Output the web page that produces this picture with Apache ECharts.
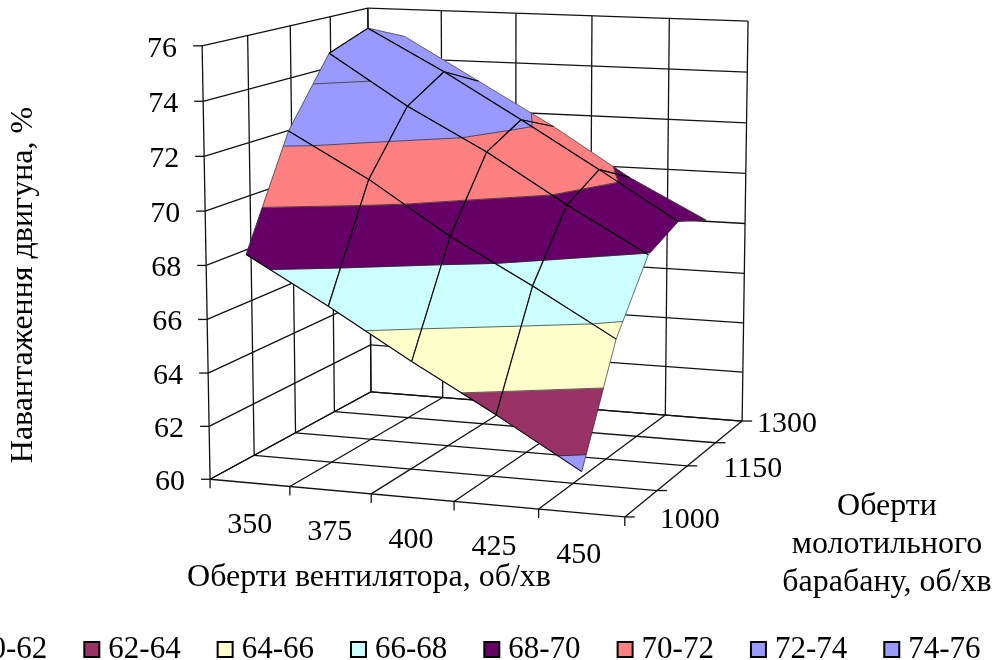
<html>
<head>
<meta http-equiv="Content-Type" content="text/html; charset=utf-8" />
<script src="https://cdn.jsdelivr.net/npm/echarts@6/dist/echarts.min.js"></script>
<style>html,body{margin:0;padding:0;background:#fff}</style>
</head>
<body>
<div id="main" style="width:998px;height:660px;"></div>
<script type="text/javascript">
var fanLabels = ['350', '375', '400', '425', '450'];
var drumLabels = ['1000', '', '1150', '', '1300'];
var loadTicks = [60, 62, 64, 66, 68, 70, 72, 74, 76];
var bandNames = ['60-62', '62-64', '64-66', '66-68', '68-70', '70-72', '72-74', '74-76'];
var bandColors = ['#9999ff', '#993366', '#ffffcc', '#ccffff', '#660066', '#ff8080', '#9999ff', '#9999ff'];

// load by drum speed row, fan speed column
var load1000 = [68.5, 66.8, 65.0, 63.3, 61.5];
var load1075 = [72.5, 70.85, 68.9, 67.25, 65.5];
var load1150 = [75.0, 73.1, 71.5, 69.65, 67.95];
var load1225 = [75.6, 74.0, 72.25, 70.45, 68.6];
var load1300 = [74.9, 73.2, 71.5, 69.6, 68.05];
var loads = [load1000, load1075, load1150, load1225, load1300];

var FONT = '"Liberation Serif", "Times New Roman", serif';

// camera fitted to the box corners: fan slot, drum step, load -> picture plane
var boxCorners = [
    [0, 0, 60, 210, 479], [5, 0, 60, 625, 517], [5, 4, 60, 742, 421], [0, 4, 60, 371, 392],
    [0, 0, 76, 202, 46], [0, 4, 76, 368, 8], [5, 4, 76, 748, 21]
];

function fitCamera(pts) {
    var n = 11, A = [], i, j, k;
    for (i = 0; i < n; i++) { A.push(new Array(n + 1).fill(0)); }
    function add(row, rhs) {
        for (var a = 0; a < n; a++) {
            for (var b = 0; b < n; b++) { A[a][b] += row[a] * row[b]; }
            A[a][n] += row[a] * rhs;
        }
    }
    pts.forEach(function (p) {
        var w = (p[2] - 60) / 16;
        add([p[0], p[1], w, 1, 0, 0, 0, 0, -p[3] * p[0], -p[3] * p[1], -p[3] * w], p[3]);
        add([0, 0, 0, 0, p[0], p[1], w, 1, -p[4] * p[0], -p[4] * p[1], -p[4] * w], p[4]);
    });
    for (i = 0; i < n; i++) {
        var best = i;
        for (j = i + 1; j < n; j++) { if (Math.abs(A[j][i]) > Math.abs(A[best][i])) { best = j; } }
        var t = A[i]; A[i] = A[best]; A[best] = t;
        for (j = 0; j < n; j++) {
            if (j !== i) {
                var f = A[j][i] / A[i][i];
                for (k = i; k <= n; k++) { A[j][k] -= f * A[i][k]; }
            }
        }
    }
    return A.map(function (r, idx) { return r[n] / r[idx]; });
}
var cam = fitCamera(boxCorners);

function project(u, v, z) {
    var w = (z - 60) / 16;
    var d = cam[8] * u + cam[9] * v + cam[10] * w + 1;
    return [(cam[0] * u + cam[1] * v + cam[2] * w + cam[3]) / d,
            (cam[4] * u + cam[5] * v + cam[6] * w + cam[7]) / d];
}

// wall and floor lines, [u1, v1, z1, u2, v2, z2]
var frameSegments = [];
loadTicks.forEach(function (z) {
    frameSegments.push([0, 0, z, 0, 4, z]);
    frameSegments.push([0, 4, z, 5, 4, z]);
});
[0, 1, 2, 3, 4].forEach(function (v) {
    frameSegments.push([0, v, 60, 0, v, 76]);
    frameSegments.push([0, v, 60, 5, v, 60]);
});
[0, 1, 2, 3, 4, 5].forEach(function (u) {
    frameSegments.push([u, 4, 60, u, 4, 76]);
    frameSegments.push([u, 0, 60, u, 4, 60]);
});

var cells = [];
for (var row = 3; row >= 0; row--) {
    for (var col = 0; col < 4; col++) { cells.push([col, row]); }
}

function clip(poly, level, keepAbove) {
    var out = [];
    poly.forEach(function (p, idx) {
        var q = poly[(idx + 1) % poly.length];
        var pIn = keepAbove ? p[2] >= level : p[2] <= level;
        var qIn = keepAbove ? q[2] >= level : q[2] <= level;
        if (pIn) { out.push(p); }
        if (pIn !== qIn) {
            var t = (level - p[2]) / (q[2] - p[2]);
            out.push([p[0] + t * (q[0] - p[0]), p[1] + t * (q[1] - p[1]), level]);
        }
    });
    return out;
}

function toPixel(api, p) {
    return api.coord(project(p[0], p[1], p[2]));
}

function segment(a, b, color, width) {
    return { type: 'line', silent: true, shape: { x1: a[0], y1: a[1], x2: b[0], y2: b[1] },
        style: { stroke: color, lineWidth: width } };
}

function renderFrame(params, api) {
    var a = api.coord(project(api.value(0), api.value(1), api.value(2)));
    var b = api.coord(project(api.value(3), api.value(4), api.value(5)));
    return segment(a, b, '#111', 1.3);
}

function renderCell(params, api) {
    var i = api.value(0), j = api.value(1);
    var quad = [[i, j], [i + 1, j], [i + 1, j + 1], [i, j + 1]].map(function (c) {
        return [c[0] + 0.5, c[1], loads[c[1]][c[0]]];
    });
    var kids = [];
    bandNames.forEach(function (name, b) {
        var lo = 60 + b * 2;
        var part = clip(clip(quad, lo, true), lo + 2, false);
        if (part.length < 3) { return; }
        kids.push({ type: 'polygon', silent: true,
            shape: { points: part.map(function (p) { return toPixel(api, p); }) },
            style: { fill: bandColors[b], stroke: bandColors[b], lineWidth: 0.6 } });
    });
    // thin contour where one band meets the next
    loadTicks.forEach(function (level) {
        var hits = [];
        quad.forEach(function (p, idx) {
            var q = quad[(idx + 1) % 4];
            if ((p[2] - level) * (q[2] - level) < 0) {
                var t = (level - p[2]) / (q[2] - p[2]);
                hits.push(toPixel(api, [p[0] + t * (q[0] - p[0]), p[1] + t * (q[1] - p[1]), level]));
            }
        });
        if (hits.length === 2) { kids.push(segment(hits[0], hits[1], '#222', 0.7)); }
    });
    // mesh: outer rim of the sheet is lighter, except the front row and one top-left piece
    var px = quad.map(function (p) { return toPixel(api, p); });
    kids.push(segment(px[0], px[1], '#000', 1.15));
    kids.push(segment(px[1], px[2], i === 3 ? '#333' : '#000', i === 3 ? 0.7 : 1.15));
    kids.push(segment(px[2], px[3], j === 3 ? '#444' : '#000', j === 3 ? 0.7 : 1.15));
    kids.push(segment(px[3], px[0], (i === 0 && j !== 2) ? '#333' : '#000', (i === 0 && j !== 2) ? 0.7 : 1.15));
    return { type: 'group', children: kids };
}

function textEl(pos, text, align) {
    return { type: 'text', silent: true, style: { x: pos[0], y: pos[1], text: text, align: align,
        verticalAlign: 'middle', font: '30px ' + FONT, fill: '#000' } };
}

function tickLine(a, dx, dy) {
    return segment(a, [a[0] + dx, a[1] + dy], '#111', 1.3);
}

var drumLabelShift = [35, 0, 36, 0, 15];

function renderAxes(params, api) {
    var kids = [];
    loadTicks.forEach(function (z) {
        var a = api.coord(project(0, 0, z));
        kids.push(tickLine(a, -9, 0));
        kids.push(textEl([a[0] - 25, a[1] + 3], String(z), 'right'));
    });
    [0, 1, 2, 3, 4, 5].forEach(function (u) {
        kids.push(tickLine(api.coord(project(u, 0, 60)), 0, 9));
    });
    fanLabels.forEach(function (s, u) {
        var a = api.coord(project(u + 0.5, 0, 60));
        kids.push(textEl([a[0] - u * 0.7, a[1] + 42], s, 'center'));
    });
    drumLabels.forEach(function (s, v) {
        var a = api.coord(project(5, v, 60));
        kids.push(tickLine(a, 10, 0));
        if (s) { kids.push(textEl([a[0] + drumLabelShift[v], a[1] + 3], s, 'left')); }
    });
    return { type: 'group', children: kids };
}

var myChart = echarts.init(document.getElementById('main'));

var series = [
    { type: 'custom', coordinateSystem: 'cartesian2d', clip: false, silent: true, animation: false,
      renderItem: renderFrame, data: frameSegments, z: 1 },
    { type: 'custom', coordinateSystem: 'cartesian2d', clip: false, silent: true, animation: false,
      renderItem: renderAxes, data: [[0, 0]], z: 1 },
    { type: 'custom', coordinateSystem: 'cartesian2d', clip: false, silent: true, animation: false,
      renderItem: renderCell, data: cells, z: 2 }
];
// empty series so that the legend lists the bands
bandNames.forEach(function (name, b) {
    series.push({ name: name, type: 'custom', coordinateSystem: 'cartesian2d', renderItem: function () {},
        data: [], itemStyle: { color: bandColors[b] } });
});

function title(x, y, text, rotation) {
    return { type: 'text', silent: true, x: x, y: y, rotation: rotation || 0,
        style: { text: text, align: 'center', verticalAlign: 'middle', font: '32px ' + FONT, fill: '#000' } };
}

myChart.setOption({
    animation: false,
    backgroundColor: '#fff',
    grid: { left: 0, right: 0, top: 0, bottom: 0 },
    xAxis: { type: 'value', min: 0, max: 998, show: false },
    yAxis: { type: 'value', min: 0, max: 660, inverse: true, show: false },
    legend: {
        data: bandNames, left: -55, top: 629, icon: 'rect', itemWidth: 15, itemHeight: 15, itemGap: 36,
        selectedMode: false, inactiveColor: '#000',
        itemStyle: { borderColor: '#000', borderWidth: 2 },
        textStyle: { fontFamily: FONT, fontSize: 31, color: '#000', padding: [0, 0, 0, 4] }
    },
    graphic: [
        title(369, 578, 'Оберти вентилятора, об/хв'),
        title(887, 507, 'Оберти'),
        title(887, 545, 'молотильного'),
        title(887, 583, 'барабану, об/хв'),
        title(24, 285, 'Навантаження двигуна, %', Math.PI / 2)
    ],
    series: series
});
</script>
</body>
</html>
